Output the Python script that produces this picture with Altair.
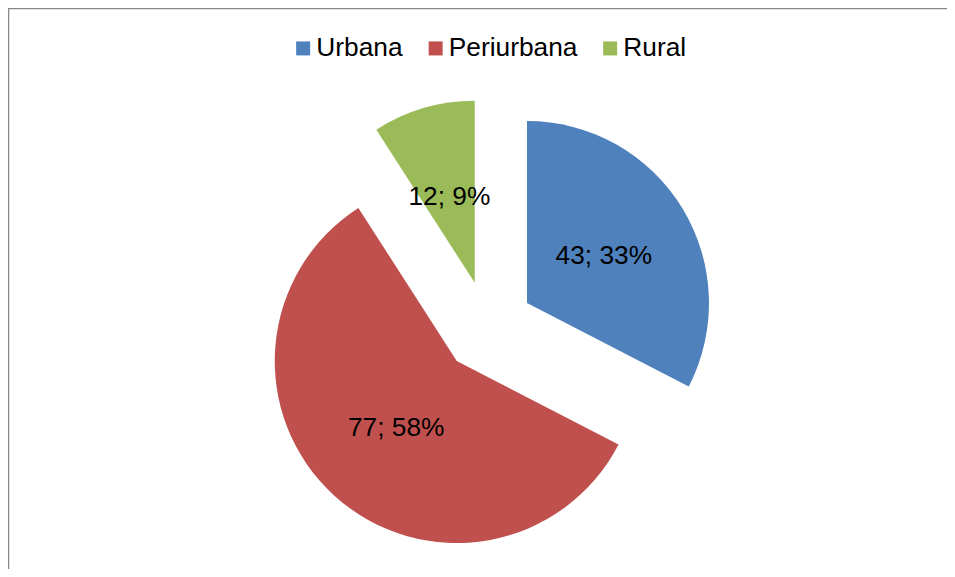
import altair as alt
import pandas as pd

# Data
categories = ["Urbana", "Periurbana", "Rural"]
values = [43, 77, 12]
colors = ["#4F81BD", "#C0504D", "#9BBB59"]

# Layout constants (chart coordinates)
W, H = 939, 561
CX, CY = 479.7, 319.0     # pie center before explosion
D = 46.0                  # explosion distance
R = 182                   # pie radius
LR = 90.0                 # label distance from slice vertex

df = pd.DataFrame({"cat": categories, "value": values, "idx": list(range(len(values)))})

base = alt.Chart(df).transform_joinaggregate(
    total="sum(value)"
).transform_window(
    cum="sum(value)", sort=[alt.SortField("idx")], frame=[None, 0]
).transform_calculate(
    start="2*PI*(datum.cum - datum.value)/datum.total",
    end="2*PI*datum.cum/datum.total",
).transform_calculate(
    mid="(datum.start + datum.end)/2"
).transform_calculate(
    cx=f"{CX} + {D}*sin(datum.mid)",
    cy=f"{CY} - {D}*cos(datum.mid)",
    lx=f"{CX} + {D + LR}*sin(datum.mid)",
    ly=f"{CY} - {D + LR}*cos(datum.mid)",
    label="datum.value + '; ' + format(datum.value/datum.total, '.0%')",
)

arcs = base.mark_arc(radius=R, stroke=None).encode(
    theta=alt.Theta("start:Q", scale=None),
    theta2="end:Q",
    x=alt.X("cx:Q", scale=None, axis=None),
    y=alt.Y("cy:Q", scale=None, axis=None),
    color=alt.Color(
        "cat:N",
        scale=alt.Scale(domain=categories, range=colors),
        legend=alt.Legend(
            title=None,
            orient="none",
            direction="horizontal",
            legendX=282,
            legendY=27,
            padding=0,
            symbolType="square",
            symbolSize=196,
            symbolStrokeWidth=0,
            symbolOpacity=1,
            labelFontSize=26.3,
            labelFont="Liberation Sans",
            labelColor="#000000",
            labelOffset=0,
            labelLimit=0,
            columnPadding=19.5,
        ),
    ),
)

labels = base.mark_text(
    font="Liberation Sans", fontSize=26.3, color="#000000", align="center", baseline="middle"
).encode(
    x=alt.X("lx:Q", scale=None, axis=None),
    y=alt.Y("ly:Q", scale=None, axis=None),
    text="label:N",
)

border_df = pd.DataFrame({"k": [0]})
left_line = alt.Chart(border_df).mark_rule(color="#868686", strokeWidth=1.5).encode(
    x=alt.value(0.5), y=alt.value(0), y2=alt.value(H)
)
top_line = alt.Chart(border_df).mark_rule(color="#868686", strokeWidth=1.5).encode(
    x=alt.value(0), x2=alt.value(W), y=alt.value(0.5)
)

chart = alt.layer(arcs, labels, left_line, top_line).properties(
    width=W, height=H, padding=0, autosize=alt.AutoSizeParams(type="none")
).configure_view(stroke=None)

chart.save("out.html", embed_options={"renderer": "svg", "actions": False})
